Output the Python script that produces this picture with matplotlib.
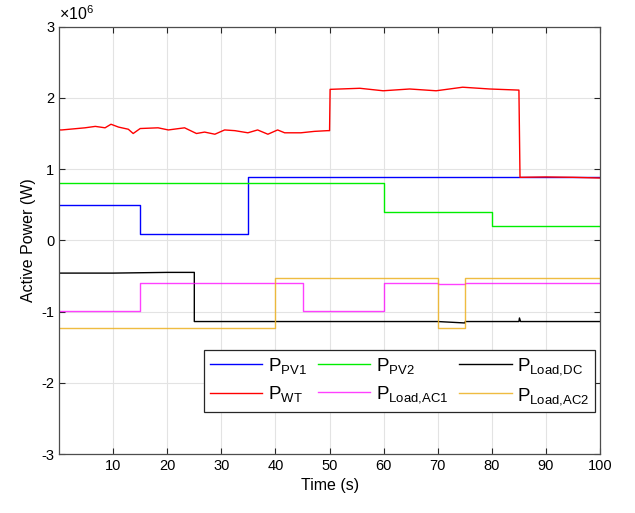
"""
Active power of the microgrid units vs. time
"""

import matplotlib
matplotlib.use("Agg")
import matplotlib.pyplot as plt


# ==========================================================
# DATA (values in x 10^6 W)
# ==========================================================

# step-type series: switching times and level held from that time
PV1_T = [0, 15, 35, 100]
PV1_P = [0.50, 0.09, 0.89, 0.89]

PV2_T = [0, 60, 80, 100]
PV2_P = [0.80, 0.40, 0.20, 0.20]

AC1_T = [0, 15, 45, 60, 70, 75, 100]
AC1_P = [-0.99, -0.60, -0.99, -0.60, -0.61, -0.60, -0.60]

AC2_T = [0, 40, 70, 75, 100]
AC2_P = [-1.23, -0.53, -1.23, -0.53, -0.53]

# wind turbine, read point by point (slightly fluctuating)
WT_T = [0, 0.5, 4.8, 6.7, 8.5, 9.6, 11, 12.8, 13.7, 15, 18.3, 20.2, 23.2,
        25.4, 26.9, 28.8, 30.6, 32.5, 34.9, 36.7, 38.6, 40.4, 41.7, 44.7,
        47.2, 49.6, 50, 50.1, 55.6, 59.9, 64.8, 69.7, 74.6, 79.6, 84.8,
        85, 85.2, 90, 95, 100]
WT_P = [1.55, 1.55, 1.58, 1.60, 1.58, 1.63, 1.59, 1.56, 1.50, 1.57, 1.58,
        1.55, 1.58, 1.50, 1.52, 1.49, 1.55, 1.54, 1.51, 1.55, 1.49, 1.55,
        1.51, 1.51, 1.53, 1.54, 1.54, 2.12, 2.135, 2.10, 2.125, 2.10, 2.15,
        2.125, 2.11, 2.11, 0.885, 0.89, 0.885, 0.875]

# DC load, read point by point
DC_T = [0, 10, 20, 25, 25, 60, 70, 75, 75.1, 85, 85.1, 85.3, 100]
DC_P = [-0.46, -0.46, -0.45, -0.45, -1.14, -1.14, -1.14, -1.16, -1.14,
        -1.14, -1.09, -1.14, -1.14]

X_TICKS = [10, 20, 30, 40, 50, 60, 70, 80, 90, 100]
Y_TICKS = [-3, -2, -1, 0, 1, 2, 3]


# ==========================================================
# PLOT
# ==========================================================

plt.rcParams["font.family"] = ["Liberation Sans", "DejaVu Sans"]
plt.rcParams["mathtext.fontset"] = "custom"
plt.rcParams["mathtext.rm"] = "Liberation Sans"
plt.rcParams["axes.unicode_minus"] = False

fig = plt.figure(figsize=(6.35, 5.13), dpi=100)
ax = fig.add_axes([0.093, 0.115, 0.852, 0.833])

lw = 1.0
h_pv1, = ax.plot(PV1_T, PV1_P, drawstyle="steps-post", color="#0000ff", lw=lw)
h_pv2, = ax.plot(PV2_T, PV2_P, drawstyle="steps-post", color="#00ee00", lw=lw)
h_dc, = ax.plot(DC_T, DC_P, color="black", lw=lw)
h_wt, = ax.plot(WT_T, WT_P, color="#ff0000", lw=lw)
h_ac1, = ax.plot(AC1_T, AC1_P, drawstyle="steps-post", color="#ff00ff",
                 lw=lw, alpha=0.75)
h_ac2, = ax.plot(AC2_T, AC2_P, drawstyle="steps-post", color="#EDB120",
                 lw=lw, alpha=0.85)

ax.set_xlim(0, 100)
ax.set_ylim(-3, 3)
ax.set_xticks(X_TICKS)
ax.set_yticks(Y_TICKS)
ax.tick_params(direction="in", top=True, right=True, labelsize=10.5,
               length=4, color="#262626")
ax.grid(True, color="#e3e3e3", lw=0.8)
ax.set_axisbelow(True)
for s in ax.spines.values():
    s.set_color("#4d4d4d")
    s.set_linewidth(0.9)

ax.set_xlabel("Time (s)", fontsize=11.5)
ax.set_ylabel("Active Power (W)", fontsize=11.5)
ax.text(0.0, 1.008, r"$\times\mathregular{10^6}$", transform=ax.transAxes,
        fontsize=11.5, ha="left", va="bottom")

handles = [h_pv1, h_wt, h_pv2, h_ac1, h_dc, h_ac2]
labels = [r"$\mathregular{P_{PV1}}$", r"$\mathregular{P_{WT}}$",
          r"$\mathregular{P_{PV2}}$", r"$\mathregular{P_{Load{,}AC1}}$",
          r"$\mathregular{P_{Load{,}DC}}$", r"$\mathregular{P_{Load{,}AC2}}$"]
leg = ax.legend(handles, labels, ncol=3, loc="lower left",
                bbox_to_anchor=(0.268, 0.098, 0.723, 0.152), mode="expand",
                borderaxespad=0, fontsize=13.5, handlelength=2.8,
                fancybox=False, framealpha=1, edgecolor="#262626",
                columnspacing=0.5, handletextpad=0.3, labelspacing=0.45,
                borderpad=0.3)
leg.get_frame().set_linewidth(0.9)

fig.savefig("out.png", dpi=100)
